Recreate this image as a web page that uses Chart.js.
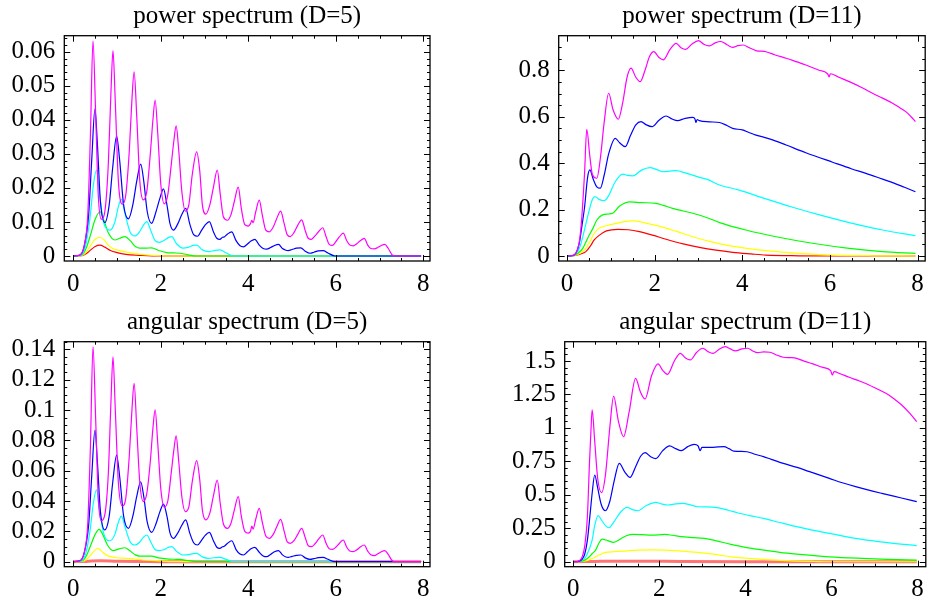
<!DOCTYPE html>
<html><head><meta charset="utf-8">
<script src="https://cdn.jsdelivr.net/npm/chart.js@4/dist/chart.umd.min.js"></script>
<style>
html,body{margin:0;padding:0;background:#fff;}
#wrap{position:relative;width:932px;height:602px;background:#fff;}
canvas{position:absolute;}
</style></head>
<body><div id="wrap">
<canvas id="c1" width="466" height="300" style="left:0;top:0"></canvas>
<canvas id="c2" width="466" height="300" style="left:466px;top:0"></canvas>
<canvas id="c3" width="466" height="302" style="left:0;top:300px"></canvas>
<canvas id="c4" width="466" height="302" style="left:466px;top:300px"></canvas>
</div>
<script>
// ---------- tick labels ----------
const X_TICKS = [0, 2, 4, 6, 8];
const Y_TICKS_P1 = [0, 0.01, 0.02, 0.03, 0.04, 0.05, 0.06];
const Y_TICKS_P2 = [0, 0.2, 0.4, 0.6, 0.8];
const Y_TICKS_P3 = [0, 0.02, 0.04, 0.06, 0.08, 0.1, 0.12, 0.14];
const Y_TICKS_P4 = [0, 0.25, 0.5, 0.75, 1, 1.25, 1.5];
const TITLES = ["power spectrum (D=5)", "power spectrum (D=11)", "angular spectrum (D=5)", "angular spectrum (D=11)"];
const SERIES = ["red", "yellow", "green", "cyan", "blue", "magenta"];

// ---------- power spectrum D=5 : [x, y] ----------
const P1_RED = [[0,0],[0.2,0.0001],[0.3,0.0007],[0.4,0.0018],[0.5,0.0028],[0.61,0.0032],[0.72,0.0026],[0.85,0.0016],[1.0,0.001],[1.2,0.0005],[1.5,0.0002],[1.8,0],[7.95,0]];
const P1_YELLOW = [[0,0],[0.2,0.0002],[0.3,0.0012],[0.4,0.0032],[0.5,0.0049],[0.6,0.0055],[0.7,0.0048],[0.8,0.0032],[0.9,0.0022],[1.0,0.0018],[1.2,0.0012],[1.4,0.0007],[1.7,0.0003],[2.2,0],[7.95,0]];
const P1_GREEN = [[0,0],[0.2,0.0003],[0.3,0.0025],[0.4,0.0065],[0.5,0.0108],[0.61,0.013],[0.7,0.0105],[0.8,0.0068],[0.95,0.0047],[1.06,0.0052],[1.18,0.0057],[1.3,0.0045],[1.42,0.0028],[1.52,0.0023],[1.65,0.0023],[1.79,0.0024],[1.95,0.0016],[2.13,0.001],[2.3,0.0009],[2.44,0.0008],[2.6,0.0004],[2.82,0],[7.95,0]];
const P1_CYAN = [[0,0],[0.18,0.0003],[0.28,0.003],[0.38,0.011],[0.46,0.021],[0.53,0.0252],[0.6,0.018],[0.7,0.0095],[0.84,0.0076],[0.95,0.01],[1.03,0.0145],[1.1,0.0166],[1.18,0.0125],[1.3,0.007],[1.41,0.0059],[1.52,0.0072],[1.6,0.009],[1.68,0.0101],[1.77,0.0075],[1.87,0.0045],[1.97,0.004],[2.08,0.0046],[2.17,0.0054],[2.25,0.0057],[2.36,0.0036],[2.51,0.0023],[2.64,0.0026],[2.74,0.0031],[2.82,0.0032],[2.95,0.0018],[3.09,0.0013],[3.22,0.0016],[3.35,0.0018],[3.5,0.0009],[3.66,0],[7.95,0]];
const P1_BLUE = [[0,0],[0.15,0.0003],[0.25,0.003],[0.35,0.012],[0.42,0.028],[0.495,0.0432],[0.55,0.033],[0.62,0.016],[0.72,0.0098],[0.82,0.015],[0.9,0.026],[0.99,0.0352],[1.06,0.028],[1.15,0.015],[1.26,0.0109],[1.36,0.015],[1.45,0.022],[1.54,0.027],[1.61,0.022],[1.69,0.013],[1.79,0.0096],[1.89,0.013],[1.98,0.017],[2.06,0.0197],[2.14,0.015],[2.21,0.0095],[2.29,0.0076],[2.39,0.0095],[2.48,0.0122],[2.57,0.014],[2.66,0.0095],[2.75,0.0063],[2.84,0.0058],[2.93,0.0075],[3.02,0.0092],[3.11,0.0101],[3.2,0.0072],[3.28,0.0052],[3.35,0.0049],[3.41,0.0055],[3.45,0.0056],[3.52,0.0064],[3.62,0.0071],[3.72,0.0045],[3.81,0.003],[3.89,0.0027],[3.98,0.0035],[4.06,0.0044],[4.15,0.0049],[4.25,0.0032],[4.34,0.0022],[4.42,0.002],[4.51,0.0025],[4.6,0.0031],[4.69,0.0034],[4.78,0.0022],[4.86,0.0017],[4.91,0.0016],[5.0,0.0019],[5.1,0.0023],[5.2,0.0024],[5.3,0.0014],[5.41,0.0008],[5.5,0.0011],[5.6,0.0015],[5.71,0.0016],[5.82,0.0009],[5.98,0],[7.95,0]];
const P1_MAGENTA = [[0,0],[0.15,0.0003],[0.25,0.003],[0.33,0.012],[0.39,0.035],[0.45,0.0632],[0.51,0.042],[0.57,0.018],[0.64,0.0108],[0.72,0.013],[0.8,0.027],[0.86,0.048],[0.907,0.0603],[0.96,0.045],[1.03,0.022],[1.12,0.0152],[1.2,0.018],[1.28,0.031],[1.34,0.046],[1.39,0.0541],[1.45,0.041],[1.52,0.022],[1.6,0.0165],[1.68,0.019],[1.76,0.03],[1.82,0.04],[1.87,0.0458],[1.93,0.036],[2.0,0.021],[2.08,0.0153],[2.16,0.018],[2.24,0.027],[2.3,0.034],[2.35,0.0382],[2.41,0.031],[2.48,0.019],[2.56,0.0132],[2.64,0.015],[2.72,0.024],[2.82,0.0306],[2.89,0.025],[2.95,0.015],[3.03,0.0123],[3.12,0.015],[3.2,0.02],[3.29,0.0252],[3.36,0.018],[3.43,0.0115],[3.52,0.0105],[3.6,0.012],[3.68,0.016],[3.77,0.0202],[3.84,0.014],[3.92,0.0092],[4.0,0.0088],[4.05,0.0095],[4.08,0.0105],[4.11,0.0098],[4.17,0.013],[4.25,0.0164],[4.32,0.012],[4.4,0.0076],[4.48,0.0071],[4.57,0.0085],[4.65,0.011],[4.74,0.0132],[4.82,0.0095],[4.89,0.0062],[4.96,0.0057],[5.05,0.007],[5.13,0.009],[5.22,0.0106],[5.3,0.0075],[5.37,0.0052],[5.44,0.0049],[5.53,0.006],[5.61,0.0072],[5.7,0.0083],[5.78,0.0056],[5.85,0.0034],[5.92,0.0031],[6.0,0.0042],[6.08,0.0056],[6.17,0.0067],[6.25,0.0045],[6.32,0.0032],[6.4,0.003],[6.48,0.0036],[6.56,0.0045],[6.65,0.0052],[6.73,0.0032],[6.8,0.0022],[6.88,0.0021],[6.96,0.0025],[7.04,0.0031],[7.12,0.0034],[7.2,0.0022],[7.3,0.0002],[7.4,0],[7.95,0]];

// ---------- power spectrum D=11 ----------
const P2_RED = [[0,0],[0.15,0.001],[0.3,0.008],[0.43,0.019],[0.53,0.042],[0.62,0.069],[0.74,0.09],[0.9,0.108],[1.16,0.115],[1.4,0.113],[1.65,0.105],[1.95,0.09],[2.26,0.072],[2.65,0.052],[3.02,0.037],[3.4,0.025],[3.78,0.016],[4.2,0.009],[4.54,0.004],[5.3,0.001],[6.0,0],[7.95,0]];
const P2_YELLOW = [[0,0],[0.15,0.002],[0.3,0.012],[0.43,0.033],[0.53,0.065],[0.62,0.098],[0.72,0.118],[0.81,0.126],[1.0,0.135],[1.25,0.146],[1.5,0.151],[1.8,0.142],[2.1,0.129],[2.5,0.106],[2.87,0.083],[3.25,0.063],[3.63,0.047],[4.1,0.033],[4.54,0.023],[5.3,0.011],[6.06,0.004],[7.0,0.001],[7.95,0]];
const P2_GREEN = [[0,0],[0.15,0.002],[0.25,0.012],[0.36,0.033],[0.48,0.08],[0.59,0.119],[0.68,0.155],[0.81,0.177],[0.95,0.181],[1.04,0.184],[1.2,0.215],[1.44,0.233],[1.7,0.23],[2.03,0.227],[2.2,0.218],[2.41,0.205],[2.87,0.184],[3.2,0.165],[3.48,0.144],[4.08,0.112],[4.77,0.083],[5.6,0.055],[6.44,0.033],[7.2,0.019],[7.95,0.011]];
const P2_CYAN = [[0,0],[0.15,0.003],[0.25,0.02],[0.32,0.055],[0.42,0.13],[0.51,0.2],[0.58,0.245],[0.64,0.256],[0.72,0.245],[0.85,0.238],[0.95,0.26],[1.1,0.32],[1.27,0.353],[1.38,0.347],[1.5,0.345],[1.7,0.37],[1.89,0.381],[2.05,0.372],[2.18,0.363],[2.35,0.366],[2.49,0.368],[2.7,0.358],[3.02,0.339],[3.2,0.33],[3.48,0.306],[3.93,0.284],[4.54,0.246],[5.15,0.21],[5.76,0.177],[6.44,0.144],[7.2,0.112],[7.95,0.088]];
const P2_BLUE = [[0,0],[0.1,0.001],[0.2,0.012],[0.28,0.055],[0.34,0.13],[0.4,0.21],[0.47,0.34],[0.52,0.371],[0.6,0.33],[0.68,0.298],[0.76,0.292],[0.85,0.35],[0.95,0.44],[1.1,0.507],[1.2,0.488],[1.33,0.471],[1.45,0.52],[1.57,0.565],[1.69,0.579],[1.8,0.566],[1.94,0.557],[2.1,0.585],[2.26,0.603],[2.4,0.59],[2.52,0.583],[2.7,0.593],[2.87,0.597],[2.92,0.59],[2.94,0.575],[2.97,0.588],[3.02,0.583],[3.25,0.578],[3.48,0.575],[3.65,0.562],[3.78,0.55],[4.0,0.543],[4.15,0.532],[4.31,0.521],[4.5,0.511],[4.69,0.5],[5.0,0.478],[5.45,0.445],[6.06,0.404],[6.5,0.375],[6.82,0.356],[7.2,0.331],[7.43,0.316],[7.7,0.296],[7.95,0.277]];
const P2_MAGENTA = [[0,0],[0.1,0.001],[0.2,0.011],[0.27,0.05],[0.32,0.126],[0.37,0.26],[0.4,0.356],[0.45,0.546],[0.52,0.43],[0.58,0.35],[0.68,0.335],[0.76,0.42],[0.85,0.58],[0.95,0.701],[1.05,0.63],[1.17,0.589],[1.27,0.66],[1.37,0.77],[1.46,0.809],[1.57,0.77],[1.67,0.751],[1.78,0.8],[1.88,0.858],[1.98,0.88],[2.1,0.855],[2.2,0.845],[2.35,0.89],[2.49,0.916],[2.6,0.897],[2.71,0.89],[2.85,0.913],[3.0,0.928],[3.12,0.912],[3.25,0.905],[3.38,0.918],[3.51,0.924],[3.65,0.91],[3.78,0.899],[3.9,0.906],[4.02,0.909],[4.15,0.898],[4.31,0.885],[4.54,0.88],[4.75,0.866],[5.0,0.852],[5.25,0.836],[5.45,0.823],[5.75,0.8],[5.95,0.784],[5.98,0.772],[6.01,0.785],[6.2,0.77],[6.44,0.751],[6.7,0.728],[6.97,0.701],[7.2,0.68],[7.43,0.658],[7.6,0.638],[7.73,0.622],[7.85,0.6],[7.95,0.579]];

// ---------- angular spectrum D=5 ----------
const P3_RED = [[0,0],[0.3,0.0002],[0.6,0.0006],[1.0,0.0003],[1.6,0.0001],[2.0,0],[7.95,0]];
const P3_YELLOW = [[0,0],[0.2,0.0002],[0.3,0.0015],[0.4,0.0045],[0.5,0.0078],[0.56,0.0088],[0.65,0.0068],[0.75,0.0045],[0.85,0.0033],[0.99,0.0026],[1.2,0.0022],[1.37,0.0018],[1.6,0.0011],[1.9,0.0007],[2.3,0],[7.95,0]];
const P3_GREEN = [[0,0],[0.2,0.0005],[0.3,0.004],[0.4,0.011],[0.5,0.018],[0.59,0.0213],[0.68,0.0175],[0.78,0.011],[0.91,0.0073],[1.05,0.0085],[1.18,0.0092],[1.3,0.007],[1.42,0.0045],[1.52,0.0037],[1.65,0.0037],[1.79,0.0037],[1.95,0.0025],[2.13,0.0018],[2.3,0.0016],[2.44,0.0015],[2.6,0.0008],[2.82,0],[7.95,0]];
const P3_CYAN = [[0,0],[0.18,0.0005],[0.28,0.005],[0.38,0.02],[0.46,0.039],[0.53,0.0473],[0.6,0.034],[0.7,0.018],[0.84,0.0138],[0.95,0.018],[1.03,0.026],[1.1,0.0301],[1.18,0.023],[1.3,0.013],[1.41,0.011],[1.52,0.013],[1.6,0.016],[1.68,0.0176],[1.77,0.013],[1.87,0.008],[1.97,0.0073],[2.08,0.008],[2.17,0.0094],[2.25,0.0099],[2.36,0.0068],[2.51,0.0044],[2.64,0.0047],[2.74,0.0053],[2.82,0.0055],[2.95,0.0032],[3.09,0.0022],[3.22,0.0026],[3.35,0.0029],[3.5,0.0014],[3.66,0],[7.95,0]];
const P3_BLUE = [[0,0],[0.15,0.0006],[0.25,0.006],[0.35,0.024],[0.42,0.056],[0.495,0.0868],[0.55,0.066],[0.62,0.033],[0.72,0.0209],[0.82,0.03],[0.9,0.052],[0.99,0.0703],[1.06,0.056],[1.15,0.03],[1.26,0.022],[1.36,0.03],[1.45,0.043],[1.54,0.0527],[1.61,0.043],[1.69,0.026],[1.79,0.0193],[1.89,0.025],[1.98,0.033],[2.06,0.038],[2.14,0.03],[2.21,0.019],[2.29,0.0154],[2.39,0.019],[2.48,0.024],[2.57,0.0275],[2.66,0.019],[2.75,0.0125],[2.84,0.011],[2.93,0.014],[3.02,0.0175],[3.11,0.0193],[3.2,0.014],[3.28,0.0095],[3.35,0.0088],[3.41,0.0098],[3.45,0.0102],[3.52,0.012],[3.62,0.0138],[3.72,0.008],[3.81,0.005],[3.89,0.0044],[3.98,0.0065],[4.06,0.0085],[4.15,0.0095],[4.25,0.0062],[4.34,0.0038],[4.42,0.0033],[4.51,0.0048],[4.6,0.0065],[4.69,0.0073],[4.78,0.0045],[4.86,0.0031],[4.91,0.0029],[5.0,0.0035],[5.1,0.0042],[5.2,0.0044],[5.3,0.0025],[5.41,0.0015],[5.5,0.002],[5.6,0.0027],[5.71,0.0029],[5.82,0.0016],[5.98,0],[7.95,0]];
const P3_MAGENTA = [[0,0],[0.15,0.0006],[0.25,0.006],[0.33,0.025],[0.39,0.075],[0.45,0.1418],[0.51,0.095],[0.57,0.042],[0.64,0.027],[0.72,0.031],[0.8,0.058],[0.86,0.105],[0.907,0.135],[0.96,0.1],[1.03,0.052],[1.12,0.0367],[1.2,0.042],[1.28,0.07],[1.34,0.1],[1.39,0.1176],[1.45,0.088],[1.52,0.052],[1.6,0.0396],[1.68,0.045],[1.76,0.066],[1.82,0.088],[1.87,0.1],[1.93,0.078],[2.0,0.048],[2.08,0.036],[2.16,0.04],[2.24,0.059],[2.3,0.074],[2.35,0.0829],[2.41,0.066],[2.48,0.043],[2.56,0.033],[2.64,0.036],[2.72,0.053],[2.82,0.0666],[2.89,0.054],[2.95,0.034],[3.03,0.0275],[3.12,0.032],[3.2,0.043],[3.29,0.0538],[3.36,0.038],[3.43,0.025],[3.52,0.022],[3.6,0.025],[3.68,0.034],[3.77,0.0429],[3.84,0.03],[3.92,0.02],[4.0,0.0188],[4.05,0.02],[4.08,0.0235],[4.11,0.0215],[4.17,0.028],[4.25,0.0352],[4.32,0.026],[4.4,0.017],[4.48,0.0154],[4.57,0.018],[4.65,0.023],[4.74,0.0279],[4.82,0.02],[4.89,0.013],[4.96,0.0121],[5.05,0.014],[5.13,0.018],[5.22,0.022],[5.3,0.016],[5.37,0.0105],[5.44,0.0099],[5.53,0.012],[5.61,0.015],[5.7,0.0176],[5.78,0.012],[5.85,0.0085],[5.92,0.0081],[6.0,0.0095],[6.08,0.012],[6.17,0.0143],[6.25,0.0095],[6.32,0.007],[6.4,0.0066],[6.48,0.0078],[6.56,0.0097],[6.65,0.011],[6.73,0.007],[6.8,0.0045],[6.88,0.004],[6.96,0.0052],[7.04,0.0066],[7.12,0.0073],[7.2,0.0047],[7.3,0.0004],[7.4,0],[7.95,0]];

// ---------- angular spectrum D=11 ----------
const P4_RED = [[0,0],[0.5,0.002],[1.0,0.004],[1.5,0.004],[2.5,0.002],[4.0,0.0005],[5.0,0],[7.98,0]];
const P4_YELLOW = [[0,0],[0.2,0.003],[0.35,0.012],[0.47,0.028],[0.6,0.05],[0.75,0.07],[0.95,0.075],[1.2,0.08],[1.51,0.087],[1.8,0.088],[2.13,0.087],[2.5,0.08],[2.89,0.07],[3.3,0.055],[3.66,0.037],[4.0,0.027],[4.42,0.017],[4.8,0.01],[5.19,0.005],[5.6,0.002],[6.0,0],[7.98,0]];
const P4_GREEN = [[0,0],[0.15,0.002],[0.25,0.01],[0.35,0.03],[0.44,0.06],[0.52,0.087],[0.6,0.14],[0.67,0.169],[0.8,0.158],[0.94,0.145],[1.1,0.17],[1.25,0.196],[1.4,0.204],[1.6,0.202],[1.82,0.199],[2.13,0.204],[2.3,0.198],[2.51,0.187],[2.8,0.18],[3.04,0.174],[3.3,0.158],[3.66,0.13],[4.0,0.108],[4.42,0.087],[4.8,0.07],[5.19,0.057],[5.95,0.037],[6.71,0.025],[7.3,0.018],[7.98,0.012]];
const P4_CYAN = [[0,0],[0.15,0.004],[0.25,0.02],[0.33,0.06],[0.44,0.162],[0.5,0.27],[0.58,0.344],[0.66,0.31],[0.75,0.27],[0.83,0.254],[0.95,0.3],[1.1,0.37],[1.25,0.406],[1.37,0.39],[1.5,0.381],[1.7,0.42],[1.92,0.444],[2.05,0.432],[2.2,0.424],[2.38,0.433],[2.55,0.436],[2.72,0.425],[2.89,0.411],[3.1,0.41],[3.35,0.404],[3.6,0.385],[3.81,0.366],[4.1,0.345],[4.42,0.324],[4.8,0.293],[5.19,0.262],[5.55,0.236],[5.95,0.212],[6.3,0.19],[6.71,0.167],[7.3,0.143],[7.98,0.12]];
const P4_BLUE = [[0,0],[0.1,0.001],[0.2,0.015],[0.27,0.06],[0.33,0.162],[0.4,0.38],[0.44,0.51],[0.5,0.648],[0.57,0.55],[0.65,0.43],[0.75,0.381],[0.85,0.45],[0.95,0.6],[1.07,0.735],[1.2,0.67],[1.32,0.63],[1.45,0.71],[1.57,0.79],[1.67,0.815],[1.8,0.785],[1.92,0.77],[2.08,0.83],[2.24,0.865],[2.38,0.845],[2.51,0.83],[2.66,0.86],[2.81,0.877],[2.9,0.865],[2.95,0.83],[2.99,0.855],[3.04,0.855],[3.25,0.855],[3.5,0.86],[3.62,0.845],[3.73,0.827],[4.04,0.822],[4.2,0.805],[4.42,0.785],[4.6,0.765],[4.88,0.735],[5.2,0.705],[5.49,0.673],[5.95,0.623],[6.25,0.59],[6.56,0.561],[7.17,0.511],[7.6,0.478],[7.98,0.449]];
const P4_MAGENTA = [[0,0],[0.1,0.002],[0.21,0.037],[0.27,0.12],[0.33,0.336],[0.38,0.75],[0.41,0.96],[0.44,1.134],[0.5,0.9],[0.57,0.62],[0.66,0.516],[0.75,0.65],[0.85,1.0],[0.94,1.238],[1.05,1.05],[1.17,0.934],[1.3,1.12],[1.45,1.37],[1.56,1.27],[1.67,1.216],[1.82,1.39],[1.97,1.478],[2.08,1.43],[2.19,1.4],[2.35,1.5],[2.49,1.557],[2.6,1.525],[2.72,1.508],[2.87,1.565],[3.01,1.595],[3.13,1.57],[3.25,1.557],[3.4,1.59],[3.53,1.607],[3.65,1.59],[3.77,1.575],[3.92,1.59],[4.05,1.595],[4.17,1.575],[4.28,1.562],[4.43,1.568],[4.57,1.565],[4.72,1.545],[4.88,1.528],[5.05,1.525],[5.19,1.52],[5.38,1.497],[5.57,1.478],[5.8,1.452],[5.98,1.428],[6.02,1.395],[6.06,1.42],[6.2,1.405],[6.41,1.378],[6.65,1.35],[6.87,1.321],[7.1,1.285],[7.33,1.246],[7.5,1.205],[7.63,1.171],[7.82,1.109],[7.98,1.047]];

// ---------- styling ----------
const COLORS = {red:'#ff0000', yellow:'#ffff00', green:'#00ff00', cyan:'#00ffff', blue:'#0000ff', magenta:'#ff00ff'};
const FONT = "'Liberation Serif','Times New Roman',serif";

const frameTicks = {
  id: 'frameTicks',
  afterDatasetsDraw(chart, args, o) {
    const {ctx, chartArea: a, scales: {x, y}} = chart;
    ctx.save();
    ctx.strokeStyle = '#000';
    ctx.lineWidth = 1;
    ctx.beginPath();
    const drawX = (v, len) => {
      const p = Math.round(x.getPixelForValue(v)) + 0.5;
      if (p < a.left || p > a.right) return;
      ctx.moveTo(p, a.bottom); ctx.lineTo(p, a.bottom - len);
      ctx.moveTo(p, a.top); ctx.lineTo(p, a.top + len);
    };
    const drawY = (v, len) => {
      const p = Math.round(y.getPixelForValue(v)) + 0.5;
      if (p < a.top || p > a.bottom) return;
      ctx.moveTo(a.left, p); ctx.lineTo(a.left + len, p);
      ctx.moveTo(a.right, p); ctx.lineTo(a.right - len, p);
    };
    for (let k = Math.ceil(x.min / o.xMinor); k * o.xMinor <= x.max; k++) drawX(k * o.xMinor, 3);
    for (let k = Math.ceil(y.min / o.yMinor); k * o.yMinor <= y.max; k++) drawY(k * o.yMinor, 3);
    o.xMajor.forEach(v => drawX(v, 6));
    o.yMajor.forEach(v => drawY(v, 6));
    ctx.stroke();
    ctx.lineWidth = 1.3;
    ctx.strokeRect(a.left, a.top, a.right - a.left, a.bottom - a.top);
    ctx.restore();
  }
};

function makeChart(id, title, seriesData, yTicks, cfg) {
  const datasets = SERIES.map((name, i) => {
    const thickRed = cfg.angular && name === 'red';
    return {
      label: name,
      data: seriesData[i].map(p => ({x: p[0], y: p[1]})),
      borderColor: thickRed ? 'rgba(255,80,80,0.8)' : COLORS[name],
      borderWidth: thickRed ? 3 : 1.2,
      pointRadius: 0,
      fill: false,
      cubicInterpolationMode: 'monotone',
      order: SERIES.length - i
    };
  });
  const fmt = v => String(+Number(v).toFixed(4));
  return new Chart(document.getElementById(id), {
    type: 'line',
    data: {datasets},
    plugins: [frameTicks],
    options: {
      responsive: false,
      animation: false,
      devicePixelRatio: 1,
      layout: {padding: {left: 0, top: 0, bottom: 0, right: cfg.padRight}},
      plugins: {
        legend: {display: false},
        tooltip: {enabled: false},
        title: {display: true, text: title, fullSize: false, color: '#000',
                font: {family: FONT, size: 25, weight: 'normal', lineHeight: 1.2},
                padding: {top: cfg.titleTop, bottom: cfg.titleBottom}},
        frameTicks: {xMajor: X_TICKS, xMinor: 0.5, yMajor: yTicks, yMinor: cfg.yMinor}
      },
      scales: {
        x: {type: 'linear', min: cfg.xMin, max: cfg.xMax,
            grid: {display: false, drawTicks: false}, border: {display: false},
            afterBuildTicks: s => { s.ticks = X_TICKS.map(v => ({value: v})); },
            afterFit: s => { s.height = cfg.xH; },
            ticks: {color: '#000', font: {family: FONT, size: 25}, padding: 8, maxRotation: 0, autoSkip: false, callback: fmt}},
        y: {type: 'linear', min: cfg.yMin, max: cfg.yMax,
            grid: {display: false, drawTicks: false}, border: {display: false},
            afterBuildTicks: s => { s.ticks = yTicks.map(v => ({value: v})); },
            afterFit: s => { s.width = cfg.yW; },
            ticks: {color: '#000', font: {family: FONT, size: 25}, padding: 9, autoSkip: false, callback: fmt}}
      }
    }
  });
}

makeChart('c1', TITLES[0], [P1_RED, P1_YELLOW, P1_GREEN, P1_CYAN, P1_BLUE, P1_MAGENTA], Y_TICKS_P1,
  {padRight: 36, titleTop: 1, titleBottom: 4.7, xMin: -0.206, xMax: 8.153, yMin: -0.00147, yMax: 0.0647, yMinor: 0.002, xH: 39, yW: 64.3});
makeChart('c2', TITLES[1], [P2_RED, P2_YELLOW, P2_GREEN, P2_CYAN, P2_BLUE, P2_MAGENTA], Y_TICKS_P2,
  {padRight: 6.7, titleTop: 1, titleBottom: 4.7, xMin: -0.19, xMax: 8.173, yMin: -0.0215, yMax: 0.949, yMinor: 0.05, xH: 39, yW: 92.7});
makeChart('c3', TITLES[2], [P3_RED, P3_YELLOW, P3_GREEN, P3_CYAN, P3_BLUE, P3_MAGENTA], Y_TICKS_P3,
  {angular: true, padRight: 36, titleTop: 7.5, titleBottom: 4.2, xMin: -0.206, xMax: 8.153, yMin: -0.0033, yMax: 0.145, yMinor: 0.005, xH: 35.3, yW: 64.3});
makeChart('c4', TITLES[3], [P4_RED, P4_YELLOW, P4_GREEN, P4_CYAN, P4_BLUE, P4_MAGENTA], Y_TICKS_P4,
  {angular: true, padRight: 1.7, titleTop: 7.5, titleBottom: 4.2, xMin: -0.197, xMax: 8.19, yMin: -0.037, yMax: 1.644, yMinor: 0.05, xH: 35.3, yW: 98.7});
</script>
</body></html>
